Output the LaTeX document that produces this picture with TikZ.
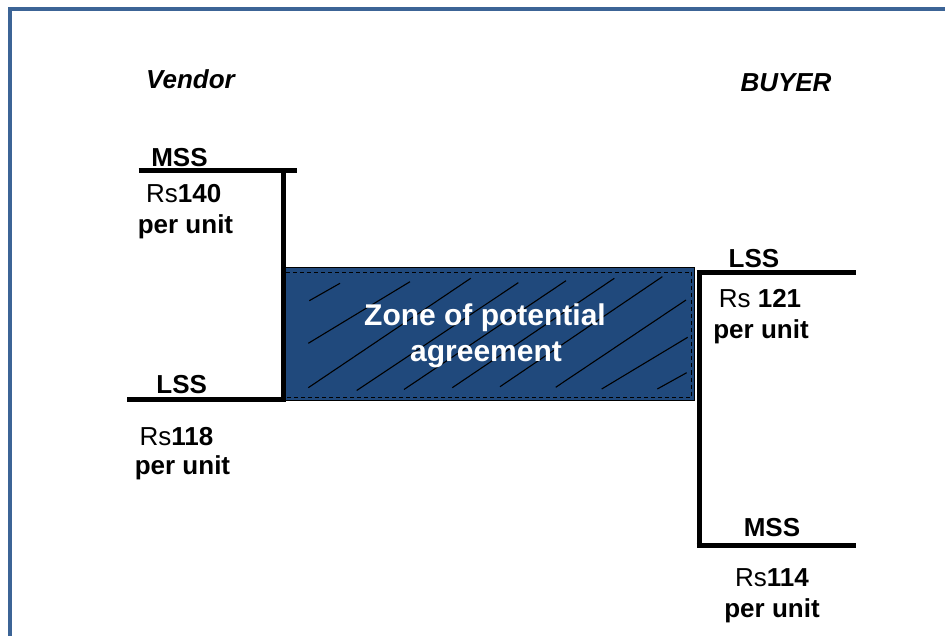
\documentclass[tikz,border=0pt]{standalone}
\usepackage{fontspec}
\setmainfont{Liberation Sans}
\definecolor{framecol}{RGB}{60,100,150}
\definecolor{zonefill}{RGB}{32,73,124}
\begin{document}
\begin{tikzpicture}[x=1pt,y=-1pt,
  lbl/.style={anchor=base,inner sep=0pt,font=\fontsize{26}{30}\selectfont},
  head/.style={lbl,font=\fontsize{26}{30}\selectfont\bfseries\itshape},
  zonetxt/.style={anchor=base,inner sep=0pt,text=white,font=\fontsize{30}{34}\selectfont\bfseries},
  bar/.style={line width=5pt,line cap=rect},
  hatch/.style={black,line width=1.1pt}]
\useasboundingbox (0,0) rectangle (945,636);

% outer frame (top and left edges visible)
\draw[framecol,line width=3.6pt] (9.8,650) -- (9.8,9.2) -- (960,9.2);

% zone of potential agreement
\coordinate (zA) at (284,267.5);
\coordinate (zB) at (694,400.5);
\fill[zonefill] (zA) rectangle (zB);
\draw[black,line width=0.9pt] (zA) rectangle (zB);
\draw[black,line width=0.8pt,dash pattern=on 4pt off 3pt] (286,272) -- (691.5,272) -- (691.5,397) -- (286,397);

% diagonal hatching
\draw[hatch] (309.3,300.7) -- (340,283.3);
\draw[hatch] (308.3,343.3) -- (410,281.7);
\draw[hatch] (308.3,387.7) -- (470.7,278.3);
\draw[hatch] (356.7,390.5) -- (518.3,282.7);
\draw[hatch] (404,389.5) -- (566,280.7);
\draw[hatch] (452.3,387.7) -- (614.3,278.3);
\draw[hatch] (500,386.7) -- (662.3,276.7);
\draw[hatch] (555.7,387.3) -- (686,300);
\draw[hatch] (601.7,389) -- (687.7,337.3);
\draw[hatch] (657.3,389) -- (686.7,372.7);

\node[zonetxt] (z1) at (485,325.7) {Zone of potential};
\node[zonetxt] (z2) at (486,361.7) {agreement};

% vendor side
\coordinate (vMa) at (138.5,171);
\coordinate (vMb) at (296.5,171);
\coordinate (vT) at (283,171);
\coordinate (vB) at (283,399);
\coordinate (vLa) at (127,399);
\draw[bar,line cap=butt] (vMa) -- (vMb);
\draw[bar,line cap=butt] (vT) -- (vB);
\draw[bar,line cap=butt] (vLa) -- (285.5,399);

\node[head] (vendor) at (190.5,88.3) {Vendor};
\node[lbl,font=\fontsize{26}{30}\selectfont\bfseries] (vmss) at (179.5,166.7) {MSS};
\node[lbl] (vmssp) at (183.8,203) {Rs\textbf{140}};
\node[lbl,font=\fontsize{26}{30}\selectfont\bfseries] (vmssu) at (185.5,233.5) {per unit};
\node[lbl,font=\fontsize{26}{30}\selectfont\bfseries] (vlss) at (181.7,393.3) {LSS};
\node[lbl] (vlssp) at (176.5,445) {Rs\textbf{118}};
\node[lbl,font=\fontsize{26}{30}\selectfont\bfseries] (vlssu) at (182.5,474.5) {per unit};

% buyer side
\coordinate (bLa) at (696.5,272.5);
\coordinate (bLb) at (855.7,272.5);
\coordinate (bT) at (699,272.5);
\coordinate (bB) at (699,545);
\coordinate (bMb) at (855.7,545);
\draw[bar,line cap=butt] (bLa) -- (bLb);
\draw[bar,line cap=butt] (bT) -- (bB);
\draw[bar,line cap=butt] (696.5,545) -- (bMb);

\node[head] (buyer) at (786,91.7) {BUYER};
\node[lbl,font=\fontsize{26}{30}\selectfont\bfseries] (blss) at (754,268) {LSS};
\node[lbl] (blssp) at (760,308) {Rs \textbf{121}};
\node[lbl,font=\fontsize{26}{30}\selectfont\bfseries] (blssu) at (761,338.5) {per unit};
\node[lbl,font=\fontsize{26}{30}\selectfont\bfseries] (bmss) at (772,536.7) {MSS};
\node[lbl] (bmssp) at (772,586.7) {Rs\textbf{114}};
\node[lbl,font=\fontsize{26}{30}\selectfont\bfseries] (bmssu) at (772,617) {per unit};
\end{tikzpicture}
\end{document}
